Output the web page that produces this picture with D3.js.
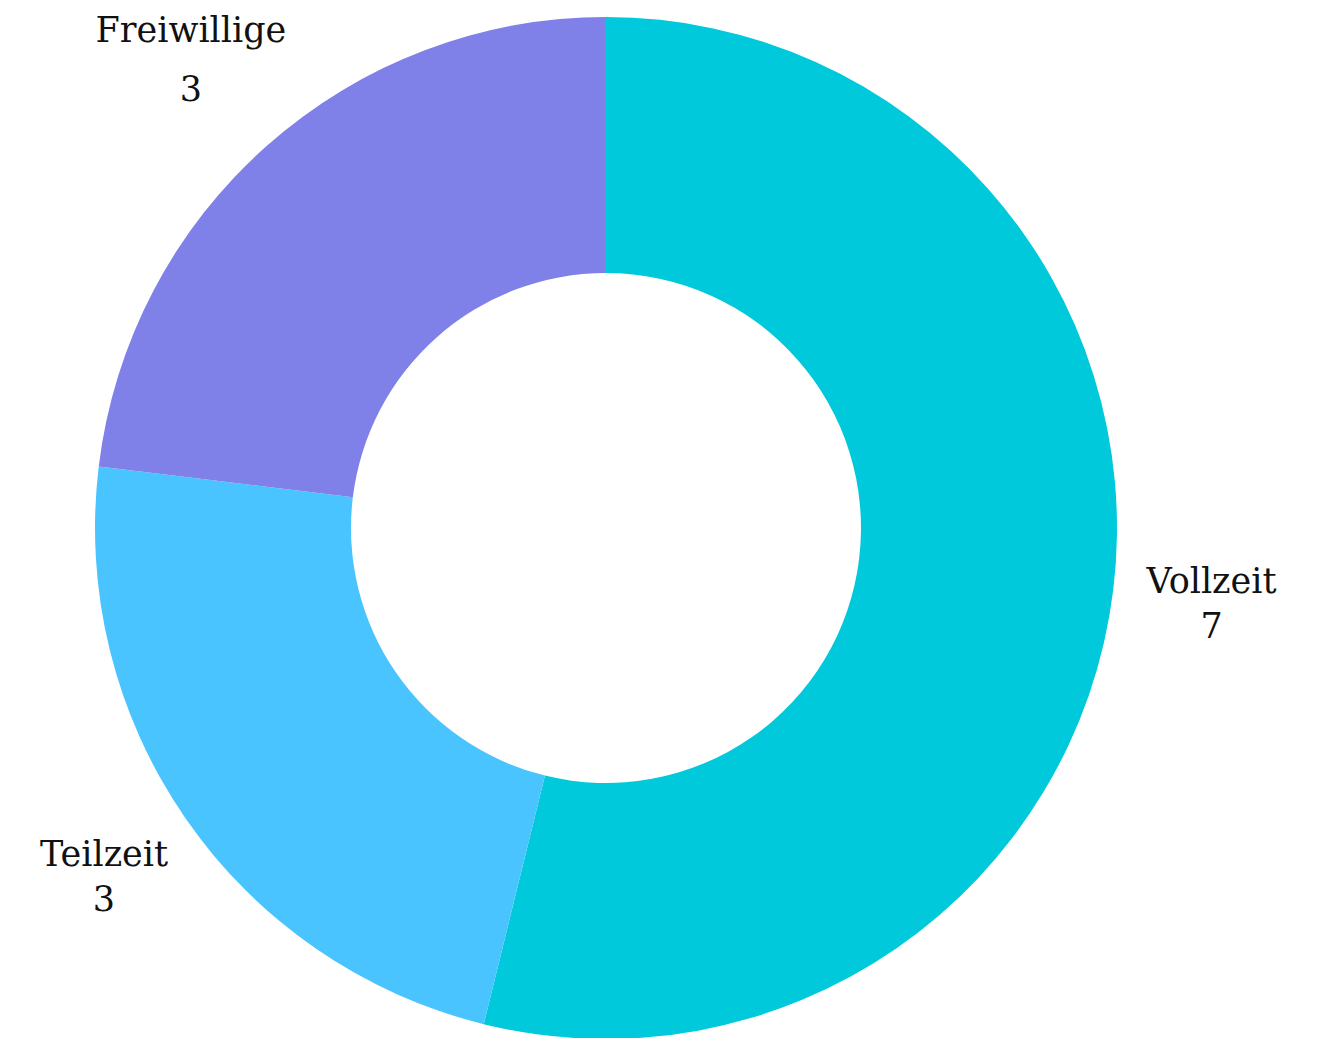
<!DOCTYPE html>
<html><head><meta charset="utf-8">
<script src="https://cdn.jsdelivr.net/npm/d3@7"></script>
<style>html,body{margin:0;padding:0;background:#fff;overflow:hidden}</style>
</head><body>
<svg id="chart" width="1318" height="1038"></svg>
<script>
const categories = ["Vollzeit", "Teilzeit", "Freiwillige"];
const values = [7, 3, 3];
const colors = ["#00C9DB", "#4AC4FF", "#7F81E8"];

const svg = d3.select("#chart");
const cx = 606, cy = 528, outerR = 511, innerR = 255;
const g = svg.append("g").attr("transform", `translate(${cx},${cy})`);
const data = categories.map((c, i) => ({name: c, value: values[i], color: colors[i]}));
const pie = d3.pie().value(d => d.value).sort(null);
const arc = d3.arc().innerRadius(innerR).outerRadius(outerR);
const arcs = pie(data);
g.selectAll("path").data(arcs).join("path").attr("d", arc).attr("fill", d => d.data.color);

// labels near the top edge sit a bit further out
const nearTop = d => Math.cos((d.startAngle + d.endAngle) / 2) > 0.7;
const t = g.selectAll("text").data(arcs).join("text")
  .attr("transform", d => {
    const r = nearTop(d) ? 626 : 610;
    return `translate(${d3.arc().innerRadius(r).outerRadius(r).centroid(d)})`;
  })
  .attr("text-anchor", "middle")
  .style("font-family", "'DejaVu Serif', serif").style("font-size", "35px").attr("fill", "#111");
t.append("tspan").attr("x", 0).attr("y", d => nearTop(d) ? -17 : -9).text(d => d.data.name);
t.append("tspan").attr("x", 0).attr("y", d => nearTop(d) ? 42 : 36).text(d => d.data.value);
</script>
</body></html>
